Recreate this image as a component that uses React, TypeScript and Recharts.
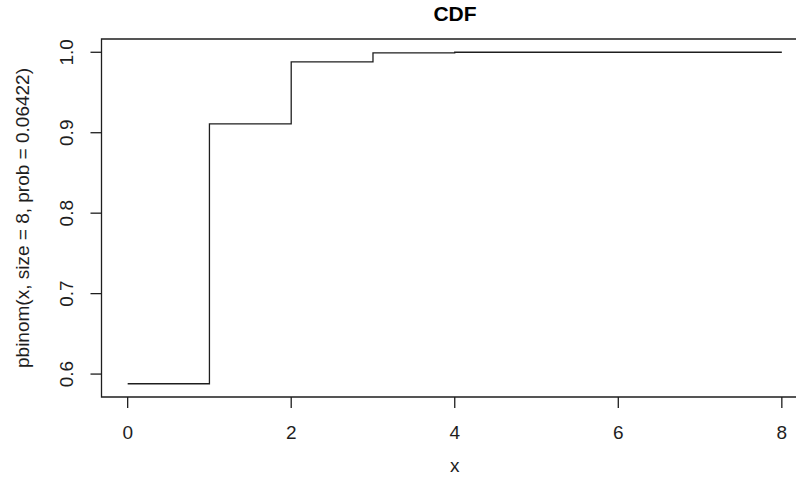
import { LineChart, Line, XAxis, YAxis, ReferenceArea, Label } from "recharts";

// pbinom(x, size = 8, prob = 0.06422)
const xValues = [0, 1, 2, 3, 4, 5, 6, 7, 8];
const cdfValues = [0.588, 0.911, 0.988, 0.9993, 1.0, 1.0, 1.0, 1.0, 1.0];
const xTicks = [0, 2, 4, 6, 8];
const yTicks = [0.6, 0.7, 0.8, 0.9, 1.0];
const xDomain = [-0.32, 8.32];
const yDomain = [0.5715, 1.0165];

const data = xValues.map((x, i) => ({ x, p: cdfValues[i] }));

const FONT = '"Liberation Sans", Arial, sans-serif';
const INK = "#1e1e1e";
const TEXT_SIZE = 19;

const XTick = (props: any) => (
  <text
    x={props.x}
    y={432}
    textAnchor="middle"
    dominantBaseline="central"
    fontSize={TEXT_SIZE}
    fontFamily={FONT}
    fill={INK}
  >
    {props.payload.value}
  </text>
);

const YTick = (props: any) => (
  <text
    x={67}
    y={props.y}
    transform={`rotate(-90, 67, ${props.y})`}
    textAnchor="middle"
    dominantBaseline="central"
    fontSize={TEXT_SIZE}
    fontFamily={FONT}
    fill={INK}
  >
    {Number(props.payload.value).toFixed(1)}
  </text>
);

const App = () => {
  return (
    <div
      style={{
        position: "absolute",
        left: 0,
        top: 0,
        width: 796,
        height: 491,
        overflow: "hidden",
        background: "#fff",
      }}
    >
      <div
        style={{
          position: "absolute",
          left: 0,
          width: 910,
          top: 2,
          textAlign: "center",
          fontFamily: FONT,
          fontWeight: "bold",
          fontSize: 21,
          color: "#000",
        }}
      >
        CDF
      </div>
      <LineChart
        width={830}
        height={491}
        data={data}
        margin={{ top: 39, right: 22, bottom: 0, left: 0 }}
      >
        <XAxis
          dataKey="x"
          type="number"
          domain={xDomain}
          ticks={xTicks}
          allowDataOverflow
          axisLine={false}
          tickLine={{ stroke: INK, strokeWidth: 1.3 }}
          tickSize={11}
          height={94}
          tick={<XTick />}
        >
          <Label
            content={({ viewBox }: any) => (
              <text
                x={viewBox.x + viewBox.width / 2}
                y={viewBox.y + 68}
                textAnchor="middle"
                dominantBaseline="central"
                fontSize={TEXT_SIZE}
                fontFamily={FONT}
                fill={INK}
              >
                x
              </text>
            )}
          />
        </XAxis>
        <YAxis
          type="number"
          domain={yDomain}
          ticks={yTicks}
          allowDataOverflow
          axisLine={false}
          tickLine={{ stroke: INK, strokeWidth: 1.3 }}
          tickSize={11}
          width={101.5}
          tick={<YTick />}
        >
          <Label
            content={({ viewBox }: any) => {
              const cy = viewBox.y + viewBox.height / 2;
              return (
                <text
                  x={22}
                  y={cy}
                  transform={`rotate(-90, 22, ${cy})`}
                  textAnchor="middle"
                  dominantBaseline="central"
                  fontSize={TEXT_SIZE}
                  fontFamily={FONT}
                  fill={INK}
                >
                  pbinom(x, size = 8, prob = 0.06422)
                </text>
              );
            }}
          />
        </YAxis>
        <ReferenceArea
          x1={xDomain[0]}
          x2={xDomain[1]}
          y1={yDomain[0]}
          y2={yDomain[1]}
          fill="none"
          stroke={INK}
          strokeWidth={1.3}
          ifOverflow="visible"
        />
        <Line
          dataKey="p"
          type="stepAfter"
          stroke={INK}
          strokeWidth={1.3}
          dot={false}
          isAnimationActive={false}
        />
      </LineChart>
    </div>
  );
};

export default App;
